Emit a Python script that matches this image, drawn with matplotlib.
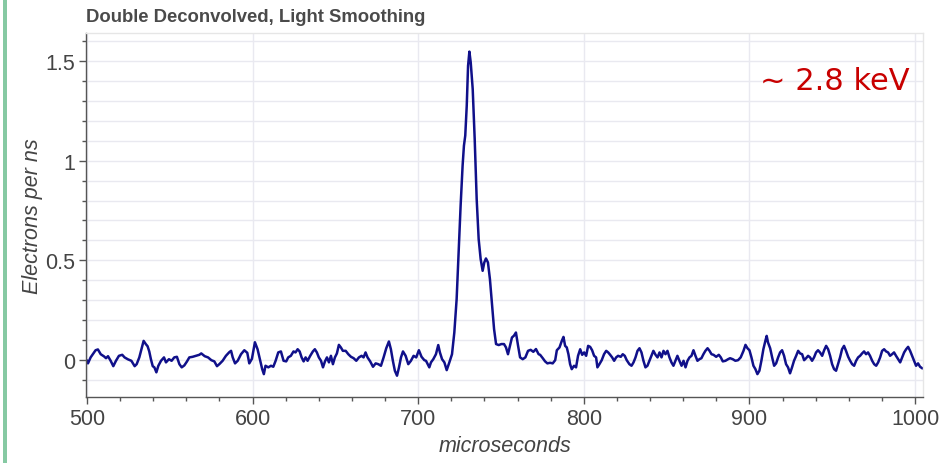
import matplotlib
matplotlib.use("Agg")
import matplotlib.pyplot as plt
from matplotlib.ticker import MultipleLocator, FixedLocator
from matplotlib.patches import Rectangle

# ---- trace: time (µs) and deconvolved signal (electrons / ns) ----
time_us = [
    500.0, 500.6, 502.2, 505.2, 506.6, 508.3, 510.3, 511.5, 512.7, 514.3,
    515.9, 517.5, 519.3, 521.3, 522.7, 524.8, 526.8, 528.8, 530.0, 531.6,
    533.2, 534.2, 535.6, 536.6, 537.6, 538.6, 539.7, 540.7, 541.9, 543.1,
    544.7, 546.5, 547.7, 549.5, 551.1, 552.7, 554.3, 555.8, 557.2, 558.8,
    560.4, 561.8, 563.8, 565.8, 567.8, 569.0, 571.1, 573.1, 575.1, 576.9,
    578.5, 579.9, 581.9, 583.9, 585.9, 587.0, 588.0, 589.4, 591.0, 593.0,
    595.0, 596.8, 598.0, 599.6, 601.4, 603.0, 604.4, 605.8, 606.8, 607.8,
    609.5, 611.1, 612.5, 613.9, 615.5, 617.1, 618.7, 620.3, 621.5, 623.1,
    624.7, 625.9, 627.2, 628.4, 629.6, 630.8, 632.0, 633.2, 634.8, 636.4,
    637.6, 638.8, 640.0, 641.3, 642.5, 643.7, 644.9, 646.1, 647.3, 648.5,
    649.7, 650.9, 652.1, 653.3, 654.5, 656.2, 657.8, 659.4, 661.0, 662.6,
    664.2, 665.8, 667.0, 668.2, 669.4, 671.0, 672.7, 674.3, 675.9, 677.5,
    679.1, 680.7, 682.3, 683.5, 684.7, 685.9, 687.2, 688.4, 689.6, 690.8,
    692.4, 694.0, 695.6, 697.2, 698.8, 700.4, 702.0, 703.7, 704.7, 705.7,
    706.7, 707.7, 709.1, 710.7, 712.1, 713.1, 714.4, 715.8, 717.2, 718.8,
    720.4, 721.8, 723.2, 724.4, 725.6, 726.8, 727.6, 728.4, 729.3, 730.1,
    730.9, 731.7, 732.9, 734.1, 735.3, 736.5, 737.7, 738.9, 739.9, 740.9,
    742.1, 743.3, 744.6, 745.8, 747.0, 748.6, 750.2, 751.8, 753.0, 754.2,
    755.4, 756.6, 757.8, 759.0, 760.3, 761.5, 763.1, 764.7, 766.3, 767.9,
    769.5, 771.1, 772.7, 773.6, 775.2, 776.6, 778.0, 779.6, 781.2, 782.7,
    783.7, 785.3, 786.7, 787.7, 788.7, 789.7, 790.7, 791.7, 792.7, 794.1,
    795.3, 796.5, 797.8, 799.0, 800.2, 801.4, 802.6, 803.8, 805.0, 806.2,
    807.4, 808.2, 809.4, 810.8, 812.2, 813.5, 814.7, 815.9, 817.1, 818.3,
    819.5, 820.7, 822.3, 823.5, 824.7, 825.9, 827.5, 828.8, 830.0, 831.2,
    832.4, 833.6, 834.8, 836.0, 837.2, 838.4, 839.6, 840.8, 842.0, 843.3,
    844.5, 845.7, 846.9, 848.1, 849.3, 850.5, 851.7, 852.9, 854.1, 855.3,
    856.5, 857.7, 859.0, 860.2, 861.4, 862.6, 863.8, 865.0, 866.2, 867.4,
    868.6, 869.8, 871.0, 872.2, 873.4, 874.7, 875.9, 877.1, 878.3, 879.9,
    881.5, 882.7, 883.9, 885.5, 887.1, 888.3, 889.9, 891.5, 893.1, 894.7,
    896.4, 897.6, 898.8, 900.0, 901.2, 902.4, 903.6, 904.8, 906.0, 907.2,
    908.4, 909.6, 910.4, 911.2, 912.5, 913.7, 914.9, 916.1, 917.3, 918.5,
    919.7, 920.9, 922.1, 923.3, 924.5, 925.7, 926.9, 928.2, 929.4, 930.6,
    931.8, 933.0, 934.2, 935.4, 936.6, 937.8, 939.0, 940.2, 941.4, 942.6,
    943.9, 945.1, 946.3, 947.5, 948.7, 949.9, 951.1, 952.3, 953.5, 954.7,
    955.9, 957.1, 958.3, 959.6, 960.8, 962.0, 963.2, 964.4, 965.6, 966.8,
    968.0, 969.2, 970.4, 971.6, 972.8, 974.1, 975.3, 976.5, 977.7, 978.9,
    980.1, 981.3, 982.5, 983.7, 984.9, 986.1, 987.3, 988.5, 989.8, 991.0,
    992.2, 993.4, 994.6, 995.8, 997.0, 998.2, 999.4, 1000.6, 1001.8, 1003.0,
    1004.2,
]
electrons_per_ns = [
    -0.005, -0.018, 0.012, 0.048, 0.052, 0.028, 0.017, 0.008, 0.018, -0.005,
    -0.032, -0.005, 0.020, 0.025, 0.012, 0.002, -0.005, -0.032, -0.022, 0.012,
    0.062, 0.095, 0.078, 0.068, 0.042, 0.003, -0.032, -0.038, -0.063, -0.030,
    -0.005, 0.012, -0.013, 0.003, -0.005, 0.012, 0.015, -0.022, -0.038, -0.028,
    -0.008, 0.012, 0.015, 0.020, 0.025, 0.032, 0.018, 0.012, -0.002, -0.008,
    -0.032, -0.022, -0.005, 0.020, 0.038, 0.045, 0.012, -0.018, -0.005, 0.028,
    0.048, 0.035, -0.018, 0.005, 0.088, 0.053, 0.003, -0.047, -0.072, -0.030,
    -0.038, -0.030, -0.035, -0.005, 0.037, 0.042, -0.005, -0.008, 0.012, 0.020,
    0.042, 0.037, 0.053, 0.042, 0.012, -0.008, 0.012, -0.005, 0.020, 0.042,
    0.053, 0.037, 0.012, -0.005, -0.038, -0.008, 0.012, -0.013, 0.020, -0.022,
    0.012, 0.032, 0.075, 0.062, 0.045, 0.045, 0.028, 0.015, 0.008, -0.005,
    0.012, 0.020, 0.012, 0.037, 0.012, -0.008, -0.035, -0.018, -0.022, -0.030,
    0.012, 0.058, 0.092, 0.053, -0.005, -0.055, -0.080, -0.038, 0.012, 0.042,
    0.020, -0.022, -0.005, 0.020, 0.012, 0.048, 0.015, -0.002, -0.005, -0.022,
    -0.038, -0.013, 0.003, 0.028, 0.074, 0.037, 0.003, -0.013, -0.052, -0.013,
    0.028, 0.137, 0.305, 0.539, 0.774, 0.975, 1.075, 1.126, 1.276, 1.477,
    1.548, 1.494, 1.360, 1.109, 0.807, 0.606, 0.506, 0.447, 0.489, 0.509,
    0.489, 0.405, 0.271, 0.154, 0.079, 0.074, 0.079, 0.079, 0.062, 0.028,
    0.070, 0.112, 0.121, 0.137, 0.070, 0.012, 0.003, 0.012, 0.045, 0.050,
    0.040, 0.054, 0.028, 0.025, 0.008, -0.008, -0.018, -0.015, -0.018, -0.002,
    0.048, 0.062, 0.095, 0.115, 0.070, 0.062, 0.028, -0.022, -0.047, -0.030,
    -0.038, 0.020, 0.053, 0.025, 0.037, 0.020, 0.070, 0.065, 0.048, 0.020,
    0.012, -0.038, -0.022, -0.002, 0.028, 0.045, 0.037, 0.025, 0.012, -0.005,
    0.012, 0.020, 0.015, 0.028, 0.020, -0.002, -0.022, -0.030, -0.013, 0.012,
    0.045, 0.058, 0.037, -0.005, -0.038, -0.030, -0.005, 0.020, 0.045, 0.025,
    0.012, 0.037, 0.012, 0.045, 0.028, 0.045, 0.012, -0.013, -0.030, -0.005,
    0.020, -0.005, -0.030, -0.005, -0.038, -0.005, 0.012, 0.020, 0.048, 0.020,
    -0.005, 0.003, 0.008, 0.028, 0.045, 0.058, 0.045, 0.028, 0.025, 0.015,
    0.025, 0.012, -0.008, -0.005, 0.003, 0.008, 0.003, -0.005, -0.002, 0.012,
    0.045, 0.075, 0.058, 0.048, 0.012, -0.030, -0.047, -0.072, -0.055, -0.005,
    0.053, 0.095, 0.120, 0.087, 0.058, 0.012, -0.030, -0.018, 0.012, 0.037,
    0.048, 0.020, -0.022, -0.038, -0.068, -0.038, -0.005, 0.020, 0.045, 0.032,
    0.028, -0.002, 0.008, 0.020, 0.012, -0.005, 0.012, 0.037, 0.048, 0.037,
    0.020, 0.048, 0.070, 0.053, 0.020, -0.022, -0.047, -0.055, -0.022, 0.012,
    0.053, 0.070, 0.045, 0.015, -0.005, -0.022, -0.030, -0.005, 0.012, 0.020,
    0.032, 0.042, 0.028, 0.037, 0.020, -0.005, -0.022, -0.030, -0.013, 0.012,
    0.045, 0.053, 0.042, 0.037, 0.020, 0.028, 0.037, 0.020, 0.003, -0.013,
    0.012, 0.037, 0.053, 0.065, 0.045, 0.020, -0.005, -0.030, -0.018, -0.035,
    -0.042,
]

title = "Double Deconvolved, Light Smoothing"
energy_note = "~ 2.8 keV"
x_ticks = [500, 600, 700, 800, 900, 1000]
y_ticks = [0, 0.5, 1, 1.5]
y_tick_labels = ["0", "0.5", "1", "1.5"]

TEXT = "#444444"
GRID = "#e9e9f0"

plt.rcParams["font.family"] = ["Liberation Sans", "DejaVu Sans"]

fig = plt.figure(figsize=(9.41, 4.64), dpi=100)
ax = fig.add_axes([0.0919, 0.1422, 0.889, 0.7856])

ax.plot(time_us, electrons_per_ns, color="#10108a", lw=1.8, solid_joinstyle="round")

ax.set_xlim(499.7, 1004.8)
ax.set_ylim(-0.187, 1.644)

ax.xaxis.set_major_locator(FixedLocator(x_ticks))
ax.xaxis.set_minor_locator(MultipleLocator(20))
ax.yaxis.set_major_locator(FixedLocator(y_ticks))
ax.set_yticklabels(y_tick_labels)
ax.yaxis.set_minor_locator(MultipleLocator(0.1))

ax.grid(axis="x", which="major", color=GRID, lw=1.0)
ax.grid(axis="y", which="both", color=GRID, lw=1.0)
ax.set_axisbelow(True)

for side in ["left", "bottom"]:
    ax.spines[side].set_color("#555555")
    ax.spines[side].set_linewidth(1.0)
for side in ["top", "right"]:
    ax.spines[side].set_color("#e6e6e6")
    ax.spines[side].set_linewidth(1.0)

ax.tick_params(which="major", direction="out", length=5, width=1.0,
               color="#555555", labelcolor=TEXT, labelsize=15.5, pad=3)
ax.tick_params(which="minor", direction="out", length=3, width=1.0, color="#555555")

ax.set_xlabel("microseconds", fontstyle="italic", color=TEXT, fontsize=15.5, labelpad=4)
ax.set_ylabel("Electrons per ns", fontstyle="italic", color=TEXT, fontsize=15.5, labelpad=2)

fig.text(0.0914, 1 - 18 / 464, title, fontsize=13.3, fontweight="bold",
         color="#4a4a4a", ha="left", va="center")

fig.text(760 / 941, 1 - 82 / 464, energy_note, fontsize=22, color="#c80000",
         family="DejaVu Sans", ha="left", va="center")

# green marker bar at the left edge
fig.patches.append(Rectangle((3 / 941, 0), 4 / 941, 1, transform=fig.transFigure,
                             facecolor="#86c9a3", edgecolor="none"))

fig.savefig("out.png", dpi=100)
